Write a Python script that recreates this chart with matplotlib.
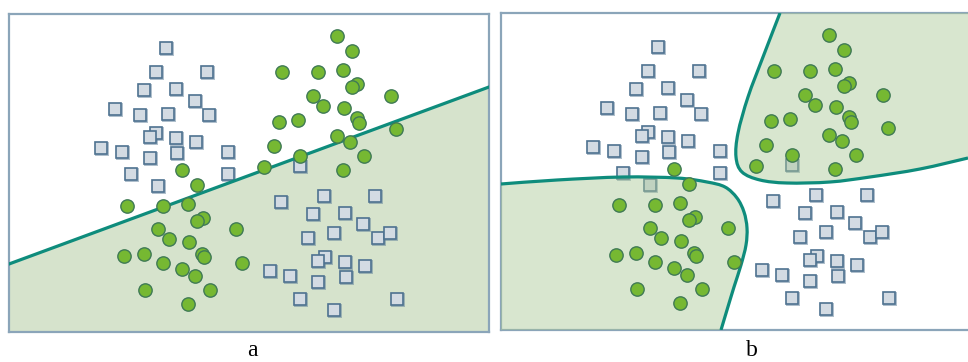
import matplotlib.pyplot as plt
import numpy as np
from matplotlib.path import Path
from matplotlib.patches import PathPatch

# point positions in frame pixels (x right, y down), shared by both panels
square_x = [157, 147, 198, 135, 167, 186, 106, 131, 159, 200, 147, 141, 167, 187, 92, 113,
            168, 219, 141, 122, 219, 149, 291,
            272, 315, 366, 304, 336, 354, 325, 299, 369, 381, 316, 309, 336, 356, 261, 281,
            309, 337, 291, 388, 325]
square_y = [34, 58, 58, 76, 75, 87, 95, 101, 100, 101, 119, 123, 124, 128, 134, 138,
            139, 138, 144, 160, 160, 172, 152,
            188, 182, 182, 200, 199, 210, 219, 224, 224, 219, 243, 247, 248, 252, 257, 262,
            268, 263, 285, 285, 296]
circle_x = [328, 343, 273, 309, 334, 348, 343, 304, 382, 314, 335, 270, 289, 348, 350, 387,
            328, 341, 265, 291, 355, 255, 334,
            173, 188, 118, 154, 179, 194, 188, 149, 227, 160, 180, 115, 135, 193, 195, 154,
            233, 173, 186, 136, 201, 179]
circle_y = [22, 37, 58, 58, 56, 70, 73, 82, 82, 92, 94, 108, 106, 104, 109, 115,
            122, 128, 132, 142, 142, 153, 156,
            156, 171, 192, 192, 190, 204, 207, 215, 215, 225, 228, 242, 240, 240, 243, 249,
            249, 255, 262, 276, 276, 290]

# panel a: straight separating line
line_x = [0, 480]
line_y = [250, 73]

# panel b: two curved boundaries
curve1_x = [279, 262, 247, 237, 235, 241, 259, 286, 329, 369, 419, 467]
curve1_y = [0, 44, 84, 120, 144, 159, 167, 170, 169, 164, 156, 145]
curve2_x = [0, 56, 122, 176, 206, 224, 236, 243, 246, 245, 240, 233, 226, 220]
curve2_y = [171, 167, 164, 165, 169, 174, 185, 199, 215, 232, 252, 274, 297, 317]

FILL = "#d6e3cc"
LINE = "#0e8c7c"
FRAME = "#8ba5b9"


def smooth_path(xs, ys):
    # Catmull-Rom through the points, expressed as cubic Bezier segments
    pts = np.column_stack([xs, ys]).astype(float)
    verts = [pts[0]]
    codes = [Path.MOVETO]
    for i in range(len(pts) - 1):
        p0 = pts[max(i - 1, 0)]
        p1 = pts[i]
        p2 = pts[i + 1]
        p3 = pts[min(i + 2, len(pts) - 1)]
        verts += [p1 + (p2 - p0) / 6, p2 - (p3 - p1) / 6, p2]
        codes += [Path.CURVE4] * 3
    return verts, codes


def draw_points(ax, square_z=3):
    ax.plot(np.array(square_x) + 1.2, np.array(square_y) + 1.2, "s", ms=8.6,
            mfc="none", mec="#5d7e98", mew=1.4, alpha=0.5, zorder=square_z)
    ax.plot(square_x, square_y, "s", ms=8.6, mfc="#d3dbe3", mec="#4e7290",
            mew=1.2, zorder=square_z)
    ax.plot(circle_x, circle_y, "o", ms=9.6, mfc="#76b832", mec="#3f7a55",
            mew=1.0, zorder=5)


def style_frame(ax, w, h, right=True):
    ax.set_xlim(0, w)
    ax.set_ylim(h, 0)
    ax.set_xticks([])
    ax.set_yticks([])
    for side, sp in ax.spines.items():
        sp.set_color(FRAME)
        sp.set_linewidth(1.6)
    if not right:
        ax.spines["right"].set_visible(False)


fig = plt.figure(figsize=(9.68, 3.62), dpi=100)
W, H = 968, 362

# panel a
wa, ha = 480, 318
ax_a = fig.add_axes([9 / W, (H - 332) / H, wa / W, ha / H])
ax_a.fill_between(line_x, line_y, [ha, ha], color=FILL, zorder=1, lw=0)
ax_a.plot(line_x, line_y, color=LINE, lw=2.3, zorder=4)
draw_points(ax_a)
style_frame(ax_a, wa, ha)

# panel b
wb, hb = 467, 317
ax_b = fig.add_axes([501 / W, (H - 330) / H, wb / W, hb / H])
draw_points(ax_b, square_z=2)
v1, c1 = smooth_path(curve1_x, curve1_y)
v2, c2 = smooth_path(curve2_x, curve2_y)
region1 = PathPatch(Path(v1 + [(wb, 0), (curve1_x[0], 0)],
                         c1 + [Path.LINETO, Path.CLOSEPOLY]),
                    fc="#a9c896", alpha=0.45, lw=0, zorder=3)
region2 = PathPatch(Path(v2 + [(0, hb), (0, curve2_y[0])],
                         c2 + [Path.LINETO, Path.CLOSEPOLY]),
                    fc="#a9c896", alpha=0.45, lw=0, zorder=3)
ax_b.add_patch(region1)
ax_b.add_patch(region2)
ax_b.add_patch(PathPatch(Path(v1, c1), fc="none", ec=LINE, lw=2.3, zorder=4))
ax_b.add_patch(PathPatch(Path(v2, c2), fc="none", ec=LINE, lw=2.3, zorder=4))
style_frame(ax_b, wb, hb, right=False)

fig.text(252 / W, 1 - 350 / H, "a", family="Liberation Serif", fontsize=17,
         ha="center", va="center")
fig.text(752 / W, 1 - 350 / H, "b", family="Liberation Serif", fontsize=17,
         ha="center", va="center")

fig.savefig("out.png", dpi=100)
